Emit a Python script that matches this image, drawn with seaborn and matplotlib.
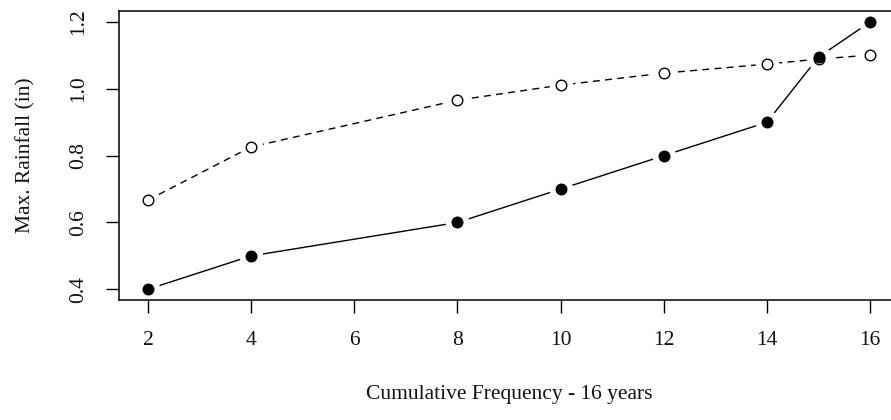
import matplotlib
matplotlib.use("Agg")
import matplotlib.pyplot as plt
import seaborn as sns
import pandas as pd

freq = [2, 4, 8, 10, 12, 14, 15, 16]
rain_filled = [0.40, 0.50, 0.60, 0.70, 0.80, 0.90, 1.095, 1.20]
rain_open = [0.667, 0.826, 0.966, 1.011, 1.047, 1.074, 1.089, 1.101]
xticks = [2, 4, 6, 8, 10, 12, 14, 16]
yticks = [0.4, 0.6, 0.8, 1.0, 1.2]
ytick_labels = ["0.4", "0.6", "0.8", "1.0", "1.2"]

sns.set_theme(style="white")
plt.rcParams['font.family'] = ['Liberation Serif', 'DejaVu Serif']

df_f = pd.DataFrame({"x": freq, "y": rain_filled})
df_o = pd.DataFrame({"x": freq, "y": rain_open})

fig = plt.figure(figsize=(8.91, 4.2), dpi=100)
ax = fig.add_axes([119 / 891, 1 - 300 / 420, 780 / 891, 288.7 / 420])

# lines
sns.lineplot(data=df_f, x="x", y="y", ax=ax, color="black", lw=1.0, zorder=1,
             estimator=None, sort=False)
sns.lineplot(data=df_o, x="x", y="y", ax=ax, color="black", lw=1.0, zorder=1,
             estimator=None, sort=False, dashes=False)
ax.lines[1].set_dashes((5.0, 3.8))

# gaps around points (R type="b")
for d in (df_f, df_o):
    ax.plot(d["x"], d["y"], ls="none", marker="o", ms=17, mfc="white",
            mec="white", mew=0, zorder=2)

# markers
ax.plot(df_o["x"], df_o["y"], ls="none", marker="o", ms=7.6, mfc="none",
        mec="black", mew=1.0, zorder=3)
ax.plot(df_f["x"], df_f["y"], ls="none", marker="o", ms=7.6, mfc="black",
        mec="black", mew=1.0, zorder=4)

ax.set_xlim(1.44, 16.56)
ax.set_ylim(0.368, 1.232)
ax.set_xticks(xticks)
ax.set_xticklabels([str(t) for t in xticks])
ax.set_yticks(yticks)
ax.set_yticklabels(ytick_labels, rotation=90, va="center")

for s in ax.spines.values():
    s.set_color("black")
    s.set_linewidth(1.1)

ax.tick_params(axis="both", direction="out", length=9.5, width=1.0,
               color="black", labelsize=15.5, labelcolor="#111111",
               left=True, bottom=True)
ax.tick_params(axis="x", pad=13)
ax.tick_params(axis="y", pad=13)

ax.set_xlabel("Cumulative Frequency - 16 years", fontsize=15.5, va="center",
              color="#111111")
ax.set_ylabel("Max. Rainfall (in)", fontsize=15.5, va="center", color="#111111")
ax.xaxis.set_label_coords(0.5, -0.329)
ax.yaxis.set_label_coords(-0.120, 0.5)

fig.savefig("out.png", dpi=100)
